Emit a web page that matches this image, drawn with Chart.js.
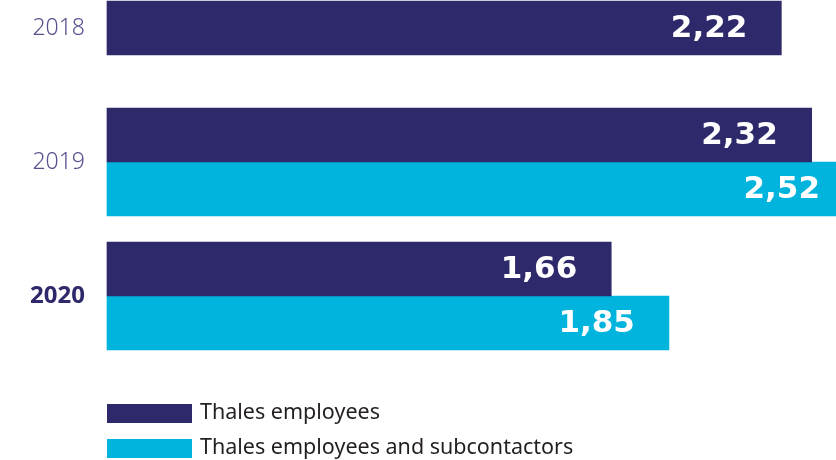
<!DOCTYPE html>
<html>
<head>
<meta charset="utf-8">
<script src="https://cdn.jsdelivr.net/npm/chart.js@4/dist/chart.umd.min.js"></script>
<style>
  html, body { margin: 0; padding: 0; background: #fff; }
  #wrap { width: 836px; height: 460px; position: relative; }
</style>
</head>
<body>
<div id="wrap"><canvas id="bars"></canvas></div>
<script>
const years = ['2018', '2019', '2020'];
const employees = [2.22, 2.32, 1.66];
const withSubcontractors = [null, 2.52, 1.85];
const seriesNames = ['Thales employees', 'Thales employees and subcontactors'];

const NAVY = '#2d296b';
const CYAN = '#00b4dd';

// white value text near the end of each bar
const valueLabels = {
  id: 'valueLabels',
  afterDatasetsDraw(chart) {
    const ctx = chart.ctx;
    ctx.save();
    ctx.font = 'bold 31px "DejaVu Sans"';
    ctx.fillStyle = '#fff';
    ctx.textAlign = 'right';
    ctx.textBaseline = 'middle';
    chart.data.datasets.forEach((ds, i) => {
      chart.getDatasetMeta(i).data.forEach((bar, j) => {
        const v = ds.data[j];
        if (v == null) return;
        const x = Math.min(bar.x, chart.width + 18) - 34;
        ctx.fillText(v.toFixed(2).replace('.', ','), x, bar.y + 1);
      });
    });
    ctx.restore();
  }
};

// legend stacked in two rows under the bars
const stackedLegend = {
  id: 'stackedLegend',
  afterDraw(chart) {
    const ctx = chart.ctx;
    const left = chart.chartArea.left;
    ctx.save();
    ctx.font = '21.5px "Noto Sans"';
    ctx.textBaseline = 'middle';
    chart.data.datasets.forEach((ds, i) => {
      const y = 404 + i * 35;
      ctx.fillStyle = ds.backgroundColor;
      ctx.fillRect(left, y, 85, 19);
      ctx.fillStyle = '#231f20';
      ctx.fillText(ds.label, left + 93, y + 9);
    });
    ctx.restore();
  }
};

new Chart(document.getElementById('bars'), {
  type: 'bar',
  data: {
    labels: years,
    datasets: [
      { label: seriesNames[0], data: employees, backgroundColor: NAVY },
      { label: seriesNames[1], data: withSubcontractors, backgroundColor: CYAN }
    ]
  },
  options: {
    indexAxis: 'y',
    responsive: true,
    maintainAspectRatio: false,
    animation: false,
    skipNull: true,
    barThickness: 54,
    clip: false,
    layout: { padding: { top: 28, bottom: 164, left: 0, right: 0 } },
    plugins: { legend: { display: false }, tooltip: { enabled: false } },
    scales: {
      x: { display: false, min: 0, max: 2.4 },
      y: {
        offset: false,
        grid: { display: false, drawTicks: false },
        border: { display: false },
        afterFit(scale) {
          scale.width = 107;
          scale.paddingTop = 0;
          scale.paddingBottom = 0;
        },
        ticks: {
          padding: 22,
          color: (c) => c.index === 2 ? NAVY : '#55528f',
          font: (c) => c.index === 2
            ? { family: 'Noto Sans', size: 24, weight: 'bold' }
            : { family: 'Noto Sans', size: 23, weight: '300' }
        }
      }
    }
  },
  plugins: [valueLabels, stackedLegend]
});
</script>
</body>
</html>
